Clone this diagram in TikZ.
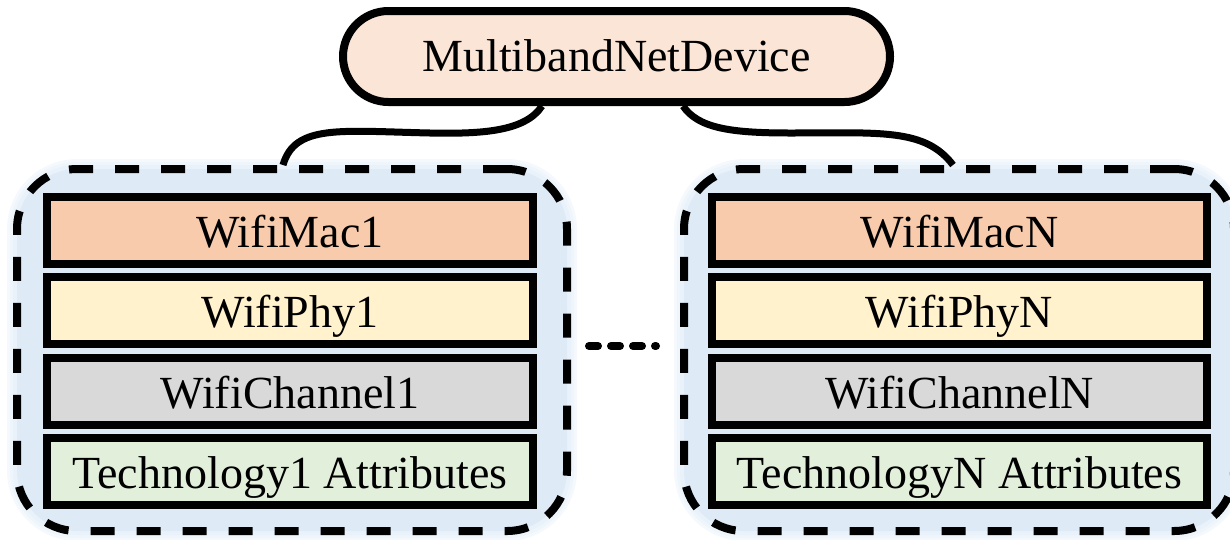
\documentclass[tikz,border=0pt]{standalone}
\usepackage{fontspec}
\setmainfont{LiberationSerif}[Extension=.ttf, UprightFont=*-Regular]
\usetikzlibrary{calc}
\definecolor{pillfill}{HTML}{FBE5D6}
\definecolor{macfill}{HTML}{F8CBAD}
\definecolor{phyfill}{HTML}{FFF2CC}
\definecolor{chanfill}{HTML}{D9D9D9}
\definecolor{techfill}{HTML}{E2EFDA}
\definecolor{groupfill}{HTML}{DEEBF7}
\tikzset{
  pill/.style={draw=black, line width=8pt, fill=pillfill, rounded corners=45.5pt,
    minimum width=547pt, minimum height=91pt, inner sep=0pt,
    text height=32pt, text depth=3pt},
  group/.style={draw=black, line width=8pt, fill=groupfill, rounded corners=60pt,
    dash pattern=on 24pt off 22pt, minimum width=550pt, minimum height=362pt,
    inner sep=0pt},
  halo/.style={fill=groupfill, opacity=0.3, rounded corners=#1,
    minimum width=550pt+2*(#1-60pt), minimum height=362pt+2*(#1-60pt), inner sep=0pt},
  layerbox/.style={draw=black, line width=8pt, minimum height=67pt, inner sep=0pt,
    text height=35pt, text depth=1pt},
  link/.style={draw=black, line width=7pt},
  dots/.style={draw=black, line width=8pt, line cap=round, dash pattern=on 9pt off 13pt},
}
\begin{document}
\begin{tikzpicture}[x=1pt, y=-1pt, font=\fontsize{46}{50}\selectfont]
\useasboundingbox (0,0) rectangle (1230,539);
\clip (0,0) rectangle (1230,539);

% soft glow around the two technology groups
\foreach \cx in {292,959}{
  \foreach \r in {70pt,67pt,64pt}{
    \node[halo=\r] at (\cx,350) {};
  }
}

% technology groups
\node[group] (g1) at (292,350) {};
\node[group] (g2) at (959,350) {};

% top-level device
\node[pill] (dev) at (616.5,56.5) {MultibandNetDevice};

% stacks of the first technology
\node[layerbox, fill=macfill,  minimum width=486pt] (mac1)  at (290,230)   {WifiMac1};
\node[layerbox, fill=phyfill,  minimum width=486pt] (phy1)  at (290,310.5) {WifiPhy1};
\node[layerbox, fill=chanfill, minimum width=486pt] (chan1) at (290,391)   {WifiChannel1};
\node[layerbox, fill=techfill, minimum width=486pt] (tech1) at (290,471)   {Technology1 Attributes};

% stacks of the N-th technology
\node[layerbox, fill=macfill,  minimum width=495pt] (macN)  at (959.5,230)   {WifiMacN};
\node[layerbox, fill=phyfill,  minimum width=495pt] (phyN)  at (959.5,310.5) {WifiPhyN};
\node[layerbox, fill=chanfill, minimum width=495pt] (chanN) at (959.5,391)   {WifiChannelN};
\node[layerbox, fill=techfill, minimum width=495pt] (techN) at (959.5,471)   {TechnologyN Attributes};

% links from the device to each group
\draw[link] ([xshift=-74.5pt]dev.south)
  .. controls (525,132) and (480,134) .. (430,133)
  .. controls (340,131) and (295,124) .. ([xshift=-9pt]g1.north);
\draw[link] ([xshift=66.5pt]dev.south)
  .. controls (698,128) and (730,133) .. (790,133)
  .. controls (880,133) and (925,128) .. ([xshift=-6pt]g2.north);

% ellipsis between the groups
\draw[dots] ($(g1.east)+(18,-4)$) -- ($(g2.west)+(-24,-4)$);
\end{tikzpicture}
\end{document}
